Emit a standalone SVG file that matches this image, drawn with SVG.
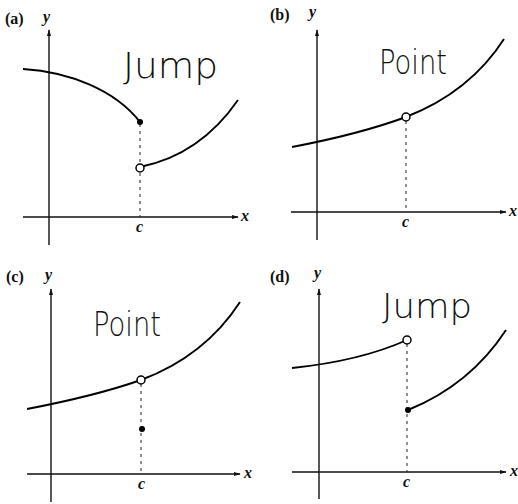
<svg xmlns="http://www.w3.org/2000/svg" width="518" height="504" viewBox="0 0 518 504">
<style>
.axis{stroke:#111;stroke-width:1.4;fill:none}
.curve{stroke:#000;stroke-width:1.9;fill:none}
.dash{stroke:#222;stroke-width:1;stroke-dasharray:3,4;fill:none}
.lbl{font-family:"Liberation Serif",serif;font-size:16px;font-weight:bold;fill:#111}
.var{font-family:"Liberation Serif",serif;font-size:16px;font-style:italic;font-weight:bold;fill:#111}
.hand{font-family:"DejaVu Sans","Liberation Sans",sans-serif;font-weight:200;fill:#111}
.open{fill:#fff;stroke:#000;stroke-width:1.5}
.fill{fill:#000}
</style>
<defs>
<marker id="arr" viewBox="0 0 10 10" refX="9" refY="5" markerWidth="7" markerHeight="7" orient="auto" markerUnits="userSpaceOnUse">
<path d="M0,2 L10,5 L0,8 z" fill="#111"/>
</marker>
</defs>
<rect width="518" height="504" fill="#fff"/>

<g id="panel-a">
<text class="lbl" x="5" y="24">(a)</text>
<text class="var" x="43" y="22">y</text>
<line class="axis" x1="49" y1="245" x2="49" y2="30" marker-end="url(#arr)"/>
<line class="axis" x1="23" y1="217" x2="238" y2="217" marker-end="url(#arr)"/>
<text class="var" x="241" y="221">x</text>
<text class="var" x="136" y="232">c</text>
<line class="dash" x1="140" y1="124" x2="140" y2="217"/>
<path class="curve" d="M23,69 C70,72 115,90 140,122"/>
<path class="curve" d="M140,167 Q200,155 238,100"/>
<circle class="fill" cx="140" cy="122" r="3"/>
<circle class="open" cx="140" cy="168" r="4"/>
<text class="hand" x="123" y="78" font-size="36" textLength="95" lengthAdjust="spacingAndGlyphs">Jump</text>
</g>

<g id="panel-b">
<text class="lbl" x="270" y="20">(b)</text>
<text class="var" x="309" y="17">y</text>
<line class="axis" x1="317" y1="240" x2="317" y2="30" marker-end="url(#arr)"/>
<line class="axis" x1="291" y1="212" x2="506" y2="212" marker-end="url(#arr)"/>
<text class="var" x="509" y="216">x</text>
<text class="var" x="402" y="227">c</text>
<line class="dash" x1="406" y1="121" x2="406" y2="212"/>
<path class="curve" d="M292,147 Q360,134 406,117 Q470,92 504,39"/>
<circle class="open" cx="406" cy="117" r="4"/>
<text class="hand" x="379" y="74" font-size="34" textLength="68" lengthAdjust="spacingAndGlyphs">Point</text>
</g>

<g id="panel-c">
<text class="lbl" x="6" y="282">(c)</text>
<text class="var" x="45" y="280">y</text>
<line class="axis" x1="51" y1="502" x2="51" y2="289" marker-end="url(#arr)"/>
<line class="axis" x1="27" y1="474" x2="240" y2="474" marker-end="url(#arr)"/>
<text class="var" x="244" y="478">x</text>
<text class="var" x="138" y="489">c</text>
<line class="dash" x1="141" y1="384" x2="141" y2="474"/>
<path class="curve" d="M27,409 Q95,396 141,380 Q205,356 240,302"/>
<circle class="open" cx="141" cy="380" r="4"/>
<circle class="fill" cx="142" cy="429" r="3"/>
<text class="hand" x="93" y="336" font-size="34" textLength="68" lengthAdjust="spacingAndGlyphs">Point</text>
</g>

<g id="panel-d">
<text class="lbl" x="270" y="282">(d)</text>
<text class="var" x="314" y="278">y</text>
<line class="axis" x1="319" y1="499" x2="319" y2="289" marker-end="url(#arr)"/>
<line class="axis" x1="292" y1="472" x2="506" y2="472" marker-end="url(#arr)"/>
<text class="var" x="510" y="476">x</text>
<text class="var" x="403" y="487">c</text>
<line class="dash" x1="407" y1="344" x2="407" y2="472"/>
<path class="curve" d="M292,368 Q360,361 407,340"/>
<path class="curve" d="M408,410 Q470,385 506,330"/>
<circle class="open" cx="407" cy="340" r="4"/>
<circle class="fill" cx="408" cy="410" r="3"/>
<text class="hand" x="382" y="318" font-size="34" textLength="90" lengthAdjust="spacingAndGlyphs">Jump</text>
</g>
</svg>
